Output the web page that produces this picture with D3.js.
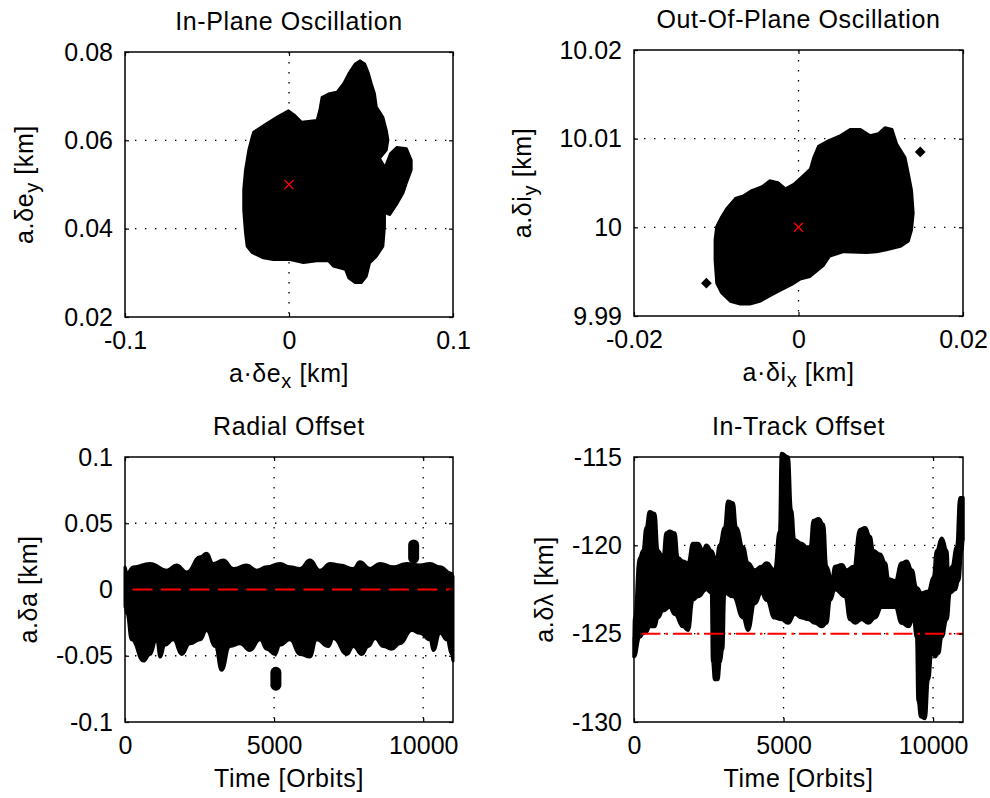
<!DOCTYPE html>
<html>
<head>
<meta charset="utf-8">
<script src="https://cdnjs.cloudflare.com/ajax/libs/d3/7.8.5/d3.min.js"></script>
<style>
body { margin: 0; background: #fff; }
text { font-family: "Liberation Sans", Arial, sans-serif; fill: #000; }
</style>
</head>
<body>
<script>
var w = 990;
var h = 798;

// --- In-plane oscillation: outline of the dense point cloud (km)
var inPlaneX = [-0.0218, -0.0157, -0.0075, -0.0004, 0.0037, 0.0077, 0.0118, 0.0169, 0.0185, 0.0199,
    0.0240, 0.0291, 0.0331, 0.0362, 0.0402, 0.0433, 0.0463, 0.0484, 0.0504, 0.0524,
    0.0535, 0.0575, 0.0596, 0.0606, 0.0596, 0.0555, 0.0585, 0.0616, 0.0657, 0.0718,
    0.0748, 0.0748, 0.0718, 0.0697, 0.0657, 0.0616, 0.0585, 0.0585, 0.0575, 0.0535,
    0.0494, 0.0474, 0.0443, 0.0402, 0.0362, 0.0342, 0.0270, 0.0240, 0.0169, 0.0088,
    0.0006, -0.0095, -0.0157, -0.0227, -0.0258, -0.0268, -0.0279, -0.0279, -0.0268, -0.0248, -0.0227];
var inPlaneY = [0.0619, 0.0634, 0.0653, 0.0668, 0.0657, 0.0642, 0.0644, 0.0646, 0.0668, 0.0698,
    0.0706, 0.0710, 0.0729, 0.0751, 0.0774, 0.0781, 0.0774, 0.0755, 0.0729, 0.0706,
    0.0676, 0.0653, 0.0623, 0.0601, 0.0578, 0.0559, 0.0540, 0.0570, 0.0585, 0.0582,
    0.0555, 0.0533, 0.0503, 0.0480, 0.0454, 0.0431, 0.0435, 0.0405, 0.0360, 0.0337,
    0.0322, 0.0292, 0.0277, 0.0277, 0.0288, 0.0307, 0.0314, 0.0326, 0.0326, 0.0322,
    0.0329, 0.0329, 0.0333, 0.0345, 0.0360, 0.0390, 0.0442, 0.0488, 0.0533, 0.0578, 0.0608];
var inPlaneTarget = [0, 0.05];

// --- Out-of-plane oscillation
var outPlaneX = [-0.0100, -0.0094, -0.0088, -0.0077, -0.0067, -0.0057, -0.0045, -0.0035, -0.0025, -0.0016,
    -0.0006, 0.0006, 0.0014, 0.0018, 0.0024, 0.0036, 0.0051, 0.0063, 0.0075, 0.0087,
    0.0097, 0.0105, 0.0114, 0.0120, 0.0130, 0.0134, 0.0138, 0.0140, 0.0138, 0.0134,
    0.0124, 0.0107, 0.0095, 0.0083, 0.0055, 0.0038, 0.0030, 0.0014, 0.0002, -0.0008,
    -0.0023, -0.0035, -0.0047, -0.0059, -0.0071, -0.0083, -0.0094, -0.0100, -0.0102, -0.0102];
var outPlaneY = [10.0001, 10.0012, 10.0021, 10.0033, 10.0036, 10.0042, 10.0046, 10.0053, 10.0051, 10.0044,
    10.0049, 10.0059, 10.0066, 10.0079, 10.0092, 10.0098, 10.0104, 10.0111, 10.0111, 10.0104,
    10.0106, 10.0113, 10.0111, 10.0094, 10.0079, 10.0061, 10.0042, 10.0016, 9.9997, 9.9984,
    9.9978, 9.9974, 9.9972, 9.9971, 9.9972, 9.9967, 9.9956, 9.9944, 9.9941, 9.9935,
    9.9928, 9.9922, 9.9916, 9.9913, 9.9913, 9.9916, 9.9926, 9.9937, 9.9963, 9.9986];
var outPlaneStrayX = [0.0148, -0.0112];
var outPlaneStrayY = [10.0085, 9.9937];
var outPlaneTarget = [0, 10];

// --- Radial offset band (upper / lower envelope over time in orbits)
var radialTopT = [0, 60, 280, 840, 1400, 1730, 2070, 2520, 2740, 2960,
    3300, 3630, 4080, 4420, 4750, 5200, 5530, 5870, 6200, 6540,
    6880, 7210, 7660, 7880, 8220, 8550, 9000, 9450, 9890, 10230,
    10560, 10960, 11000];
var radialTop = [0.017, 0.012, 0.017, 0.0197, 0.0146, 0.0184, 0.0133, 0.0247, 0.0273, 0.0197,
    0.0222, 0.0159, 0.0184, 0.0146, 0.0171, 0.0197, 0.0171, 0.0159, 0.0222, 0.0146,
    0.0197, 0.0184, 0.0159, 0.0209, 0.0159, 0.0197, 0.0171, 0.0197, 0.0184, 0.0197,
    0.0171, 0.0121, 0.010];
var radialBotT = [0, 60, 220, 620, 840, 1060, 1180, 1340, 1620, 1900,
    2180, 2520, 2740, 3020, 3240, 3520, 3860, 4190, 4530, 4750,
    5030, 5200, 5530, 5870, 6200, 6430, 6820, 6990, 7440, 7660,
    7940, 8160, 8390, 8660, 8940, 9220, 9620, 9890, 10230, 10340,
    10570, 10790, 10960, 11000];
var radialBot = [-0.013, -0.018, -0.038, -0.054, -0.049, -0.038, -0.051, -0.042, -0.038, -0.049,
    -0.041, -0.038, -0.031, -0.043, -0.061, -0.043, -0.041, -0.046, -0.038, -0.045,
    -0.049, -0.042, -0.038, -0.049, -0.051, -0.038, -0.043, -0.037, -0.049, -0.043,
    -0.049, -0.043, -0.037, -0.043, -0.045, -0.041, -0.031, -0.033, -0.038, -0.046,
    -0.033, -0.038, -0.049, -0.054];
var radialBlobT = [5060, 9680];
var radialBlobLo = [-0.0722, 0.0237];
var radialBlobHi = [-0.0625, 0.0336];
var radialRef = 0;

// --- In-track offset band
var trackTopT = [0, 20, 190, 300, 410, 520, 690, 800, 970, 1080,
    1190, 1360, 1470, 1640, 1810, 1970, 2140, 2310, 2420, 2590,
    2750, 2860, 3030, 3140, 3310, 3420, 3650, 3810, 4040, 4260,
    4430, 4700, 4870, 4930, 5150, 5260, 5370, 5610, 5770, 5890,
    6000, 6170, 6330, 6440, 6610, 6720, 6950, 7110, 7340, 7560,
    7730, 7890, 8000, 8230, 8400, 8510, 8730, 8950, 9120, 9290,
    9450, 9620, 9840, 10010, 10120, 10290, 10460, 10510, 10630, 10790,
    10900, 11000];
var trackTop = [-125.2, -124.1, -120.7, -120.3, -119.0, -118.1, -118.2, -120.3, -120.7, -119.3,
    -119.2, -119.3, -120.7, -120.9, -121.0, -119.9, -119.9, -120.3, -120.0, -120.3,
    -120.9, -120.0, -119.0, -117.5, -117.6, -119.0, -120.1, -121.0, -121.4, -121.2,
    -121.0, -121.4, -119.2, -114.8, -115.0, -118.0, -119.7, -119.9, -120.1, -120.1,
    -118.6, -118.5, -118.8, -121.2, -122.0, -121.2, -121.1, -121.4, -121.2, -119.1,
    -119.0, -119.5, -120.3, -120.5, -121.0, -121.9, -122.0, -121.0, -120.9, -121.4,
    -122.4, -122.7, -122.6, -121.8, -120.3, -119.6, -120.3, -121.8, -121.2, -120.1,
    -117.3, -117.3];
var trackBotT = [0, 190, 300, 410, 520, 690, 800, 970, 1190, 1360,
    1640, 1810, 1970, 2140, 2420, 2590, 2630, 2700, 2800, 2880,
    2960, 3030, 3310, 3650, 3810, 4040, 4260, 4430, 4700, 4930,
    5150, 5380, 5610, 5830, 6050, 6280, 6440, 6560, 6720, 7060,
    7220, 7390, 7610, 7840, 8060, 8280, 8510, 8730, 8950, 9180,
    9340, 9450, 9500, 9590, 9730, 9840, 9960, 10070, 10180, 10290,
    10460, 10570, 10740, 10850, 10960, 11000];
var trackBot = [-126.3, -125.2, -125.0, -124.9, -124.6, -124.6, -124.1, -123.7, -123.5, -123.9,
    -124.6, -124.8, -123.1, -122.9, -122.5, -122.7, -126.6, -127.6, -127.6, -126.6,
    -125.9, -122.7, -122.9, -124.1, -124.8, -123.3, -122.7, -123.1, -124.1, -124.2,
    -124.4, -123.9, -124.1, -124.2, -124.4, -124.6, -124.4, -123.1, -122.5, -122.9,
    -124.2, -124.4, -124.2, -124.4, -124.1, -123.5, -123.5, -123.5, -124.4, -124.6,
    -124.1, -125.2, -128.8, -129.7, -129.8, -127.6, -125.9, -126.3, -126.1, -125.2,
    -124.2, -122.7, -122.5, -122.0, -120.3, -119.7];
var trackRef = -125;
var refStartT = 250;

// --- ticks
var planeXTicks = [-0.1, 0, 0.1];
var planeXLabels = ["-0.1", "0", "0.1"];
var planeYTicks = [0.02, 0.04, 0.06, 0.08];
var planeYLabels = ["0.02", "0.04", "0.06", "0.08"];
var outXTicks = [-0.02, 0, 0.02];
var outXLabels = ["-0.02", "0", "0.02"];
var outYTicks = [9.99, 10, 10.01, 10.02];
var outYLabels = ["9.99", "10", "10.01", "10.02"];
var timeTicks = [0, 5000, 10000];
var timeLabels = ["0", "5000", "10000"];
var radialYTicks = [-0.1, -0.05, 0, 0.05, 0.1];
var radialYLabels = ["-0.1", "-0.05", "0", "0.05", "0.1"];
var trackYTicks = [-130, -125, -120, -115];
var trackYLabels = ["-130", "-125", "-120", "-115"];

var svg = d3.select("body")
    .append("svg")
    .attr("width", w)
    .attr("height", h);

svg.append("rect").attr("width", w).attr("height", h).attr("fill", "#fff");

function panel(o) {
    var x = d3.scaleLinear().domain(o.xDomain).range([o.l, o.r]);
    var y = d3.scaleLinear().domain(o.yDomain).range([o.b, o.t]);
    var g = svg.append("g");

    // dotted grid
    var grid = g.append("g").attr("stroke", "#000").attr("stroke-width", 1.3)
        .attr("stroke-dasharray", "1.4,8.6").attr("fill", "none");
    o.xTicks.forEach(function(v) {
        if (v === o.xDomain[0] || v === o.xDomain[1]) return;
        grid.append("line").attr("x1", x(v)).attr("x2", x(v)).attr("y1", o.t).attr("y2", o.b);
    });
    o.yTicks.forEach(function(v) {
        if (v === o.yDomain[0] || v === o.yDomain[1]) return;
        grid.append("line").attr("x1", o.l).attr("x2", o.r).attr("y1", y(v)).attr("y2", y(v));
    });

    o.draw(g, x, y);

    // frame
    g.append("rect").attr("x", o.l).attr("y", o.t).attr("width", o.r - o.l).attr("height", o.b - o.t)
        .attr("fill", "none").attr("stroke", "#000").attr("stroke-width", 1.5);

    var fmtX = function(d, i) { return o.xLabels[i]; };
    var fmtY = function(d, i) { return o.yLabels[i]; };

    var ax = [
        g.append("g").attr("transform", "translate(0," + o.b + ")")
            .call(d3.axisBottom(x).tickValues(o.xTicks).tickFormat(fmtX).tickSize(-4).tickPadding(14)),
        g.append("g").attr("transform", "translate(0," + o.t + ")")
            .call(d3.axisTop(x).tickValues(o.xTicks).tickFormat("").tickSize(-4)),
        g.append("g").attr("transform", "translate(" + o.l + ",0)")
            .call(d3.axisLeft(y).tickValues(o.yTicks).tickFormat(fmtY).tickSize(-4).tickPadding(12)),
        g.append("g").attr("transform", "translate(" + o.r + ",0)")
            .call(d3.axisRight(y).tickValues(o.yTicks).tickFormat("").tickSize(-4))
    ];
    ax.forEach(function(a) {
        a.select(".domain").remove();
        a.attr("font-family", null).attr("font-size", null);
        a.selectAll("line").attr("stroke", "#000").attr("stroke-width", 1.2);
        a.selectAll("text").attr("font-size", 25).attr("fill", "#000");
    });

    var cx = (o.l + o.r) / 2;
    g.append("text").attr("x", cx).attr("y", o.t - 22)
        .attr("text-anchor", "middle").attr("font-size", 25).attr("letter-spacing", 0.6)
        .text(o.title);

    var xl = g.append("text").attr("x", cx).attr("y", o.b + 65)
        .attr("text-anchor", "middle").attr("font-size", 25).attr("letter-spacing", 0.6);
    addParts(xl, o.xLabel);

    var cy = (o.t + o.b) / 2;
    var yl = g.append("text")
        .attr("transform", "translate(" + o.yLabelX + "," + cy + ") rotate(-90)")
        .attr("text-anchor", "middle").attr("font-size", 25).attr("letter-spacing", 0.6);
    addParts(yl, o.yLabel);
}

function addParts(t, parts) {
    parts.forEach(function(p) {
        var s = t.append("tspan").text(p[0]);
        if (p[1] === "sub") s.attr("font-size", 20).attr("dy", 6);
        if (p[1] === "back") s.attr("dy", -6);
    });
}

function polygon(xs, ys) {
    return xs.map(function(v, i) { return [v, ys[i]]; });
}

function band(topT, top, botT, bot) {
    var up = topT.map(function(t, i) { return [t, top[i]]; });
    var lo = botT.map(function(t, i) { return [t, bot[i]]; }).reverse();
    return up.concat(lo);
}

function crossPath(px, py, r) {
    return "M" + (px - r) + "," + (py - r) + "L" + (px + r) + "," + (py + r) +
        "M" + (px - r) + "," + (py + r) + "L" + (px + r) + "," + (py - r);
}

panel({
    l: 125, r: 453, t: 52, b: 317,
    xDomain: [-0.1, 0.1], yDomain: [0.02, 0.08],
    xTicks: planeXTicks, xLabels: planeXLabels, yTicks: planeYTicks, yLabels: planeYLabels,
    title: "In-Plane Oscillation",
    xLabel: [["a·δe"], ["x", "sub"], [" [km]", "back"]],
    yLabel: [["a.δe"], ["y", "sub"], [" [km]", "back"]],
    yLabelX: 33,
    draw: function(g, x, y) {
        var line = d3.line().x(function(d) { return x(d[0]); }).y(function(d) { return y(d[1]); });
        g.append("path").attr("d", line(polygon(inPlaneX, inPlaneY)) + "Z")
            .attr("fill", "#000").attr("stroke", "#000").attr("stroke-width", 2).attr("stroke-linejoin", "round");
        g.append("path").attr("d", crossPath(x(inPlaneTarget[0]), y(inPlaneTarget[1]), 4.5))
            .attr("stroke", "#f00").attr("stroke-width", 1.3).attr("fill", "none");
    }
});

panel({
    l: 634, r: 963, t: 50, b: 316,
    xDomain: [-0.02, 0.02], yDomain: [9.99, 10.02],
    xTicks: outXTicks, xLabels: outXLabels, yTicks: outYTicks, yLabels: outYLabels,
    title: "Out-Of-Plane Oscillation",
    xLabel: [["a·δi"], ["x", "sub"], [" [km]", "back"]],
    yLabel: [["a.δi"], ["y", "sub"], [" [km]", "back"]],
    yLabelX: 531,
    draw: function(g, x, y) {
        var line = d3.line().x(function(d) { return x(d[0]); }).y(function(d) { return y(d[1]); });
        g.append("path").attr("d", line(polygon(outPlaneX, outPlaneY)) + "Z")
            .attr("fill", "#000").attr("stroke", "#000").attr("stroke-width", 2).attr("stroke-linejoin", "round");
        var sym = d3.symbol().type(d3.symbolSquare).size(58);
        g.selectAll(".stray").data(outPlaneStrayX).enter().append("path")
            .attr("d", sym)
            .attr("transform", function(d, i) { return "translate(" + x(d) + "," + y(outPlaneStrayY[i]) + ") rotate(45)"; })
            .attr("fill", "#000");
        g.append("path").attr("d", crossPath(x(outPlaneTarget[0]), y(outPlaneTarget[1]), 4.5))
            .attr("stroke", "#f00").attr("stroke-width", 1.3).attr("fill", "none");
    }
});

panel({
    l: 125, r: 453, t: 457, b: 722,
    xDomain: [0, 11000], yDomain: [-0.1, 0.1],
    xTicks: timeTicks, xLabels: timeLabels, yTicks: radialYTicks, yLabels: radialYLabels,
    title: "Radial Offset",
    xLabel: [["Time [Orbits]"]],
    yLabel: [["a.δa [km]"]],
    yLabelX: 37,
    draw: function(g, x, y) {
        var line = d3.line().curve(d3.curveBumpX)
            .x(function(d) { return x(d[0]); }).y(function(d) { return y(d[1]); });
        g.append("path").attr("d", line(band(radialTopT, radialTop, radialBotT, radialBot)) + "Z")
            .attr("fill", "#000").attr("stroke", "#000").attr("stroke-width", 3).attr("stroke-linejoin", "round");
        g.selectAll(".blob").data(radialBlobT).enter().append("line")
            .attr("x1", function(d) { return x(d); }).attr("x2", function(d) { return x(d); })
            .attr("y1", function(d, i) { return y(radialBlobLo[i]); })
            .attr("y2", function(d, i) { return y(radialBlobHi[i]); })
            .attr("stroke", "#000").attr("stroke-width", 11).attr("stroke-linecap", "round");
        g.append("line").attr("x1", x(refStartT)).attr("x2", x(11000))
            .attr("y1", y(radialRef)).attr("y2", y(radialRef))
            .attr("stroke", "#f00").attr("stroke-width", 2).attr("stroke-dasharray", "20,8.5");
    }
});

panel({
    l: 634, r: 963, t: 457, b: 722,
    xDomain: [0, 11000], yDomain: [-130, -115],
    xTicks: timeTicks, xLabels: timeLabels, yTicks: trackYTicks, yLabels: trackYLabels,
    title: "In-Track Offset",
    xLabel: [["Time [Orbits]"]],
    yLabel: [["a.δλ [km]"]],
    yLabelX: 553,
    draw: function(g, x, y) {
        var line = d3.line().curve(d3.curveBumpX)
            .x(function(d) { return x(d[0]); }).y(function(d) { return y(d[1]); });
        g.append("path").attr("d", line(band(trackTopT, trackTop, trackBotT, trackBot)) + "Z")
            .attr("fill", "#000").attr("stroke", "#000").attr("stroke-width", 3.5).attr("stroke-linejoin", "round");
        g.append("line").attr("x1", x(refStartT)).attr("x2", x(11000))
            .attr("y1", y(trackRef)).attr("y2", y(trackRef))
            .attr("stroke", "#f00").attr("stroke-width", 2).attr("stroke-dasharray", "19,5,2.5,5");
    }
});
</script>
</body>
</html>
